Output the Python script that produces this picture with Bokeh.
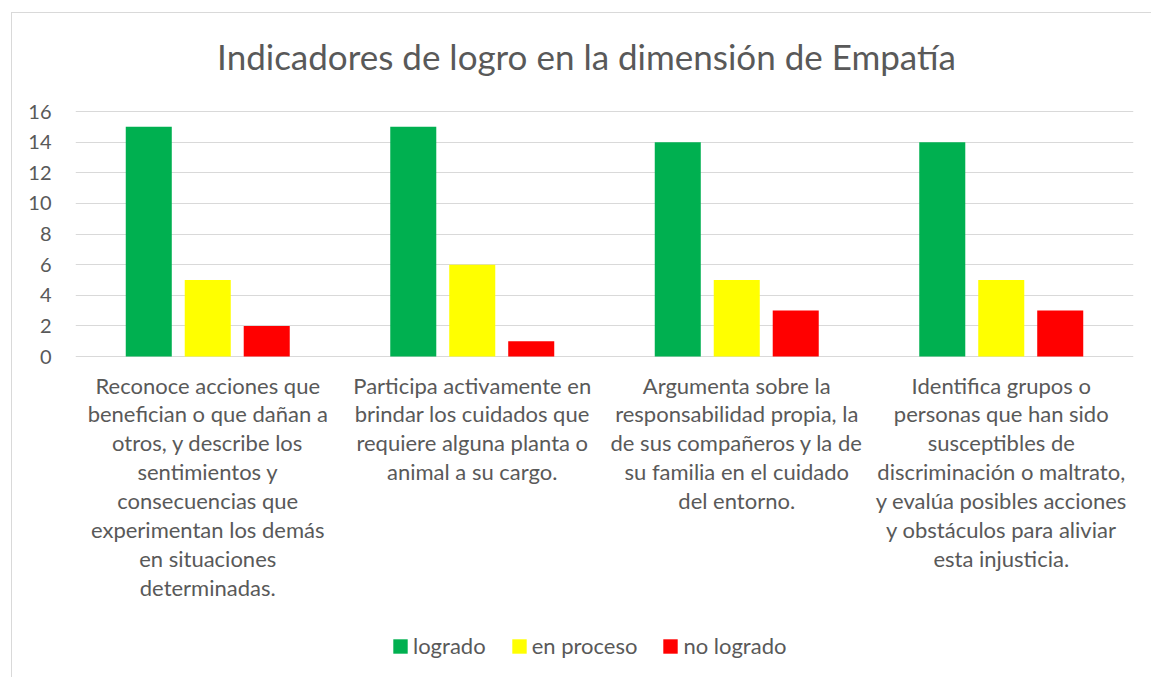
from bokeh.plotting import figure
from bokeh.models import Legend, LegendItem, ColumnDataSource, FixedTicker, Range1d
from bokeh.transform import dodge
from bokeh.embed import file_html
from bokeh.resources import INLINE

title_text = "Indicadores de logro en la dimensión de Empatía"
categories = [
    "Reconoce acciones que\nbenefician o que dañan a\notros, y describe los\nsentimientos y\nconsecuencias que\nexperimentan los demás\nen situaciones\ndeterminadas.",
    "Participa activamente en\nbrindar los cuidados que\nrequiere alguna planta o\nanimal a su cargo.",
    "Argumenta sobre la\nresponsabilidad propia, la\nde sus compañeros y la de\nsu familia en el cuidado\ndel entorno.",
    "Identifica grupos o\npersonas que han sido\nsusceptibles de\ndiscriminación o maltrato,\ny evalúa posibles acciones\ny obstáculos para aliviar\nesta injusticia.",
]
logrado = [15, 15, 14, 14]
en_proceso = [5, 6, 5, 5]
no_logrado = [2, 1, 3, 3]
series_names = ["logrado", "en proceso", "no logrado"]
colors = ["#00b050", "#ffff00", "#ff0000"]
y_ticks = [0, 2, 4, 6, 8, 10, 12, 14, 16]

FONT = "Lato"
TXT = "#595959"

# layout constants (pixels)
PX = 245 / 16.0          # pixels per unit on the value axis
TOP_PAD = 98             # pixels above the value 16 (title area)
BOTTOM_PAD = 321         # pixels below the value 0 (category labels + legend)

n = len(categories)
xpos = [i + 0.5 for i in range(n)]
src = ColumnDataSource(dict(x=xpos, cat=categories, logrado=logrado,
                            en_proceso=en_proceso, no_logrado=no_logrado))

p = figure(
    x_range=Range1d(0, n), y_range=Range1d(-BOTTOM_PAD / PX, 16 + TOP_PAD / PX),
    frame_width=1058, frame_height=245 + TOP_PAD + BOTTOM_PAD,
    output_backend="svg", toolbar_location=None,
    min_border_left=63, min_border_right=18, min_border_top=0, min_border_bottom=0,
    styles={"border-left": "1px solid #d9d9d9", "border-top": "1px solid #d9d9d9",
            "margin-left": "11px", "margin-top": "12px"},
)
p.outline_line_color = None
p.xaxis.visible = False
p.xgrid.grid_line_color = None
p.ygrid.grid_line_color = "#d9d9d9"
p.ygrid.grid_line_width = 1
p.ygrid.ticker = FixedTicker(ticks=y_ticks)

step = 0.223
w = 0.174
renderers = []
for i, (field, color) in enumerate(zip(["logrado", "en_proceso", "no_logrado"], colors)):
    r = p.vbar(x=dodge("x", (i - 1) * step), top=field, bottom=0, width=w,
               source=src, color=color, line_color=None)
    renderers.append(r)

p.yaxis.ticker = FixedTicker(ticks=y_ticks)
p.yaxis.axis_line_color = None
p.yaxis.major_tick_line_color = None
p.yaxis.minor_tick_line_color = None
p.yaxis.major_label_text_font = FONT
p.yaxis.major_label_text_font_size = "20px"
p.yaxis.major_label_text_color = TXT
p.yaxis.major_label_standoff = 18

# category labels below the bars
p.text(x="x", y=-15 / PX, text="cat", source=src, text_align="center", text_baseline="top",
       text_font_size="22px", text_color=TXT, text_line_height=1.07,
       text_font={"value": FONT})

# title
p.text(x=[1.932], y=[16 + 56 / PX], text=[title_text], text_align="center", text_baseline="middle",
       text_font_size="35px", text_color=TXT, text_font={"value": FONT})

legend = Legend(
    items=[LegendItem(label=nm, renderers=[r]) for nm, r in zip(series_names, renderers)],
    orientation="horizontal", location=(316, 18),
    glyph_width=18, glyph_height=18, label_text_font=FONT, label_text_font_size="22px",
    label_text_color=TXT, spacing=24, label_standoff=4, border_line_color=None,
    background_fill_alpha=0, margin=0, padding=0,
)
p.add_layout(legend, "center")

open("out.html", "w").write(file_html(p, INLINE))
